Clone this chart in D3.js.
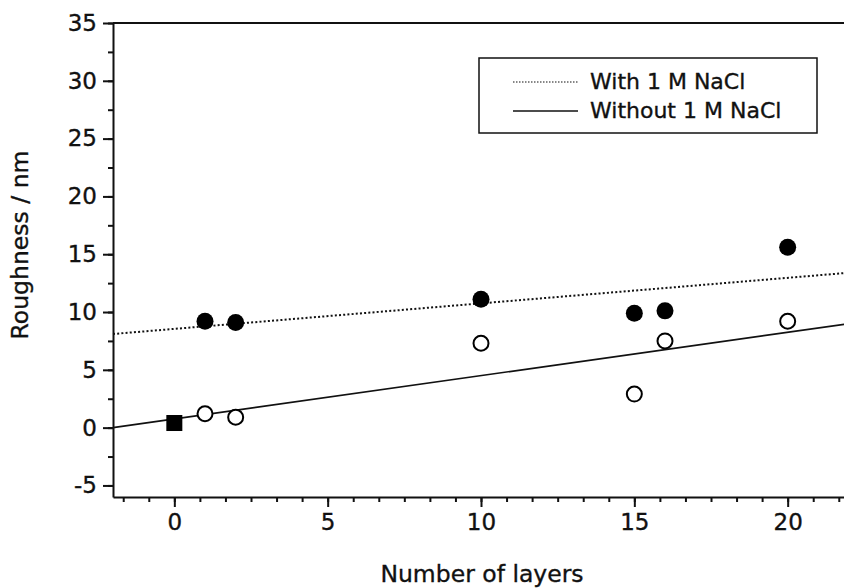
<!DOCTYPE html>
<html>
<head>
    <meta charset="utf-8">
    <title>Roughness vs number of layers</title>
    <script src="https://d3js.org/d3.v7.min.js"></script>
    <style>
        body { margin: 0; background: #fff; }
        text { font-family: "DejaVu Sans", Verdana, sans-serif; fill: #111; stroke: #111; stroke-width: 0.35px; }
    </style>
</head>
<body>
    <div id="chart"></div>

    <script>
        // Data
        var layersWith = [1, 2, 10, 15, 16, 20];
        var roughWith = [9.2, 9.1, 11.1, 9.9, 10.1, 15.6];
        var layersWithout = [1, 2, 10, 15, 16, 20];
        var roughWithout = [1.2, 0.9, 7.3, 2.9, 7.5, 9.2];
        var layersBare = [0];
        var roughBare = [0.4];

        // Fitted lines (end points)
        var fitX = [-2, 22];
        var fitWith = [8.1, 13.4];
        var fitWithout = [0.0, 9.0];

        var xTicks = [0, 5, 10, 15, 20];
        var yTicks = [-5, 0, 5, 10, 15, 20, 25, 30, 35];
        var legendLabels = ["With 1 M NaCl", "Without 1 M NaCl"];

        var width = 844;
        var height = 588;

        var svg = d3.select("#chart")
            .append("svg")
            .attr("width", width)
            .attr("height", height);

        // Scales
        var x = d3.scaleLinear().domain([-2, 22]).range([113, 849]);
        var y = d3.scaleLinear().domain([-6, 35]).range([497, 23]);

        // Minor ticks
        var xMinor = d3.range(-2, 27).map(function(i) { return i * 5 / 6; })
            .filter(function(v) { return v > -2 && v < 22; });
        var yMinor = d3.range(-2, 15).map(function(i) { return i * 2.5; })
            .filter(function(v) { return v >= -6 && v <= 35; });

        // x axis
        svg.append("g")
            .attr("transform", "translate(0," + y(-6) + ")")
            .call(d3.axisBottom(x).tickValues(xMinor).tickSize(5).tickSizeOuter(0).tickFormat(""))
            .call(function(g) { g.select(".domain").remove(); });
        var xAxis = svg.append("g")
            .attr("transform", "translate(0," + y(-6) + ")")
            .call(d3.axisBottom(x).tickValues(xTicks).tickSize(10).tickSizeOuter(0).tickPadding(7));

        // y axis
        svg.append("g")
            .attr("transform", "translate(" + x(-2) + ",0)")
            .call(d3.axisLeft(y).tickValues(yMinor).tickSize(5).tickSizeOuter(0).tickFormat(""))
            .call(function(g) { g.select(".domain").remove(); });
        var yAxis = svg.append("g")
            .attr("transform", "translate(" + x(-2) + ",0)")
            .call(d3.axisLeft(y).tickValues(yTicks).tickSize(10).tickSizeOuter(0).tickPadding(6)
                .tickFormat(function(d) { return d < 0 ? "-" + Math.abs(d) : d; }));

        svg.selectAll(".tick line, .domain")
            .attr("stroke", "#111")
            .attr("stroke-width", 2);
        [xAxis, yAxis].forEach(function(g) {
            g.attr("font-family", null).attr("font-size", 23);
            g.selectAll("text").attr("fill", "#111");
        });

        // top frame line
        svg.append("line")
            .attr("x1", x(-2)).attr("x2", width)
            .attr("y1", y(35)).attr("y2", y(35))
            .attr("stroke", "#111").attr("stroke-width", 2);

        // Axis titles
        svg.append("text")
            .attr("x", 482).attr("y", 582)
            .attr("text-anchor", "middle")
            .attr("font-size", 23.5)
            .text("Number of layers");
        svg.append("text")
            .attr("transform", "translate(28,245) rotate(-90)")
            .attr("text-anchor", "middle")
            .attr("font-size", 23.5)
            .text("Roughness / nm");

        // Fit lines
        var line = d3.line()
            .x(function(d) { return x(d[0]); })
            .y(function(d) { return y(d[1]); });
        svg.append("path")
            .datum(d3.zip(fitX, fitWith))
            .attr("d", line)
            .attr("fill", "none")
            .attr("stroke", "#111")
            .attr("stroke-width", 2)
            .attr("stroke-dasharray", "2,2.2");
        svg.append("path")
            .datum(d3.zip(fitX, fitWithout))
            .attr("d", line)
            .attr("fill", "none")
            .attr("stroke", "#111")
            .attr("stroke-width", 1.7);

        // Points
        svg.selectAll(".with")
            .data(d3.zip(layersWith, roughWith))
            .enter().append("circle")
            .attr("class", "with")
            .attr("cx", function(d) { return x(d[0]); })
            .attr("cy", function(d) { return y(d[1]); })
            .attr("r", 8.5)
            .attr("fill", "#000");
        svg.selectAll(".without")
            .data(d3.zip(layersWithout, roughWithout))
            .enter().append("circle")
            .attr("class", "without")
            .attr("cx", function(d) { return x(d[0]); })
            .attr("cy", function(d) { return y(d[1]); })
            .attr("r", 7.5)
            .attr("fill", "#fff")
            .attr("stroke", "#000")
            .attr("stroke-width", 2);
        svg.selectAll(".bare")
            .data(d3.zip(layersBare, roughBare))
            .enter().append("rect")
            .attr("class", "bare")
            .attr("x", function(d) { return x(d[0]) - 8; })
            .attr("y", function(d) { return y(d[1]) - 8; })
            .attr("width", 16)
            .attr("height", 16)
            .attr("fill", "#000");

        // Legend
        var legend = svg.append("g");
        legend.append("rect")
            .attr("x", 479).attr("y", 58)
            .attr("width", 338).attr("height", 75)
            .attr("fill", "#fff")
            .attr("stroke", "#111")
            .attr("stroke-width", 1.5);
        legendLabels.forEach(function(label, i) {
            var ly = 82 + i * 29;
            legend.append("line")
                .attr("x1", 513).attr("x2", 578)
                .attr("y1", ly).attr("y2", ly)
                .attr("stroke", "#111")
                .attr("stroke-width", i === 0 ? 1.2 : 1.5)
                .attr("stroke-dasharray", i === 0 ? "1.5,1.5" : null);
            legend.append("text")
                .attr("x", 590).attr("y", ly + 7)
                .attr("font-size", 22)
                .text(label);
        });
    </script>
</body>
</html>
